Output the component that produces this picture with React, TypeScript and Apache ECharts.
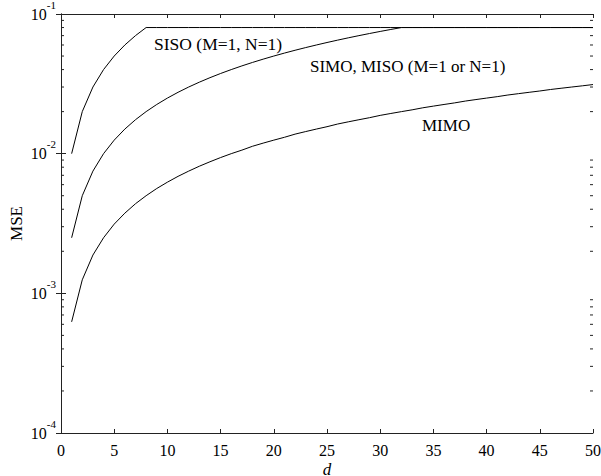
import React, { useEffect, useRef } from "react";
import * as echarts from "echarts";

const dValues = [
  1, 2, 3, 4, 5, 6, 7, 8, 9, 10, 11, 12, 13, 14, 15, 16, 17, 18, 19, 20, 21, 22, 23, 24, 25,
  26, 27, 28, 29, 30, 31, 32, 33, 34, 35, 36, 37, 38, 39, 40, 41, 42, 43, 44, 45, 46, 47, 48, 49, 50,
];

const sisoMSE = [
  0.01, 0.02, 0.03, 0.04, 0.05, 0.06, 0.07, 0.08, 0.08, 0.08, 0.08, 0.08, 0.08, 0.08, 0.08, 0.08, 0.08,
  0.08, 0.08, 0.08, 0.08, 0.08, 0.08, 0.08, 0.08, 0.08, 0.08, 0.08, 0.08, 0.08, 0.08, 0.08, 0.08, 0.08,
  0.08, 0.08, 0.08, 0.08, 0.08, 0.08, 0.08, 0.08, 0.08, 0.08, 0.08, 0.08, 0.08, 0.08, 0.08, 0.08,
];

const simoMSE = [
  0.0025, 0.005, 0.0075, 0.01, 0.0125, 0.015, 0.0175, 0.02, 0.0225, 0.025, 0.0275, 0.03, 0.0325, 0.035,
  0.0375, 0.04, 0.0425, 0.045, 0.0475, 0.05, 0.0525, 0.055, 0.0575, 0.06, 0.0625, 0.065, 0.0675, 0.07,
  0.0725, 0.075, 0.0775, 0.08, 0.08, 0.08, 0.08, 0.08, 0.08, 0.08, 0.08, 0.08, 0.08, 0.08, 0.08, 0.08,
  0.08, 0.08, 0.08, 0.08, 0.08, 0.08,
];

const mimoMSE = [
  0.000625, 0.00125, 0.00188, 0.0025, 0.00313, 0.00375, 0.00438, 0.005, 0.00563, 0.00625, 0.00688,
  0.0075, 0.00813, 0.00875, 0.00938, 0.01, 0.0106, 0.0113, 0.0119, 0.0125, 0.0131, 0.0138, 0.0144,
  0.015, 0.0156, 0.0163, 0.0169, 0.0175, 0.0181, 0.0188, 0.0194, 0.02, 0.0206, 0.0213, 0.0219, 0.0225,
  0.0231, 0.0238, 0.0244, 0.025, 0.0256, 0.0263, 0.0269, 0.0275, 0.0281, 0.0288, 0.0294, 0.03, 0.0306,
  0.03125,
];

const minorTickValues = [
  0.0002, 0.0003, 0.0004, 0.0005, 0.0006, 0.0007, 0.0008, 0.0009,
  0.002, 0.003, 0.004, 0.005, 0.006, 0.007, 0.008, 0.009,
  0.02, 0.03, 0.04, 0.05, 0.06, 0.07, 0.08, 0.09,
];

const curveLabels = ["SISO (M=1, N=1)", "SIMO, MISO (M=1 or N=1)", "MIMO"];

const FONT = "Liberation Serif";

export default function App() {
  const ref = useRef<HTMLDivElement>(null);

  useEffect(() => {
    if (!ref.current) return;
    const chart = echarts.init(ref.current, undefined, { renderer: "svg" });
    const toPairs = (arr: number[]) => arr.map((v, i) => [dValues[i], v]);
    const lineSeries = (name: string, arr: number[]) => ({
      name,
      type: "line",
      data: toPairs(arr),
      showSymbol: false,
      symbol: "none",
      lineStyle: { color: "#000", width: 1 },
      xAxisIndex: 0,
      yAxisIndex: 0,
      z: 3,
    });
    const axisLine = { show: true, lineStyle: { color: "#222", width: 1 } };
    chart.setOption({
      animation: false,
      backgroundColor: "#fff",
      grid: { left: 61, right: 8, top: 14, bottom: 43, outerBoundsMode: "none", containLabel: false },
      xAxis: [
        {
          type: "value",
          min: 0,
          max: 50,
          interval: 5,
          name: "d",
          nameLocation: "middle",
          nameGap: 29,
          nameMoveOverlap: false,
          nameTextStyle: { fontFamily: FONT, fontSize: 17, fontStyle: "italic", color: "#000", lineHeight: 15 },
          axisLine,
          axisTick: { inside: true, length: 4, lineStyle: { color: "#222" } },
          axisLabel: { fontFamily: FONT, fontSize: 16, color: "#000", margin: 9 },
          splitLine: { show: false },
        },
        {
          type: "value",
          position: "top",
          min: 0,
          max: 50,
          interval: 5,
          axisLine,
          axisTick: { inside: true, length: 4, lineStyle: { color: "#222" } },
          axisLabel: { show: false },
          splitLine: { show: false },
        },
      ],
      yAxis: [
        {
          type: "log",
          logBase: 10,
          min: 0.0001,
          max: 0.1,
          name: "MSE",
          nameLocation: "middle",
          nameGap: 36,
          nameMoveOverlap: false,
          nameRotate: 90,
          nameTextStyle: { fontFamily: FONT, fontSize: 17, color: "#000" },
          axisLine,
          axisTick: { inside: true, length: 5, lineStyle: { color: "#222" } },
          axisLabel: {
            margin: 5,
            formatter: (v: number) => {
              const e = Math.round(Math.log10(v));
              return `{b|10}{s|${e}}`;
            },
            rich: {
              b: { fontFamily: FONT, fontSize: 16, color: "#000", lineHeight: 16 },
              s: { fontFamily: FONT, fontSize: 11, color: "#000", lineHeight: 11, padding: [0, 0, 19, 0] },
            },
          },
          splitLine: { show: false },
        },
        {
          type: "log",
          logBase: 10,
          min: 0.0001,
          max: 0.1,
          position: "right",
          axisLine,
          axisTick: { inside: true, length: 5, lineStyle: { color: "#222" } },
          axisLabel: { show: false },
          splitLine: { show: false },
        },
      ],
      series: [
        lineSeries(curveLabels[0], sisoMSE),
        lineSeries(curveLabels[1], simoMSE),
        lineSeries(curveLabels[2], mimoMSE),
        {
          type: "custom",
          xAxisIndex: 0,
          yAxisIndex: 0,
          clip: false,
          silent: true,
          data: minorTickValues.map((v) => [0, v]),
          encode: { x: 0, y: 1 },
          renderItem: (params: any, api: any) => {
            const v = api.value(1);
            const pl = api.coord([0, v]);
            const pr = api.coord([50, v]);
            const st = { stroke: "#222", lineWidth: 1 };
            return {
              type: "group",
              children: [
                { type: "line", shape: { x1: pl[0], y1: pl[1], x2: pl[0] + 3, y2: pl[1] }, style: st },
                { type: "line", shape: { x1: pr[0], y1: pr[1], x2: pr[0] - 3, y2: pr[1] }, style: st },
              ],
            };
          },
        },
      ],
      graphic: [
        {
          type: "text",
          left: 154,
          top: 35,
          style: { text: curveLabels[0], fontFamily: FONT, fontSize: 17.5, fill: "#000" },
        },
        {
          type: "text",
          left: 310,
          top: 58,
          style: { text: curveLabels[1], fontFamily: FONT, fontSize: 17, fill: "#000" },
        },
        {
          type: "text",
          left: 422,
          top: 117,
          style: { text: curveLabels[2], fontFamily: FONT, fontSize: 17, fill: "#000" },
        },
      ],
    });
    return () => chart.dispose();
  }, []);

  return <div ref={ref} style={{ width: 601, height: 476, position: "absolute", left: 0, top: 0 }} />;
}
